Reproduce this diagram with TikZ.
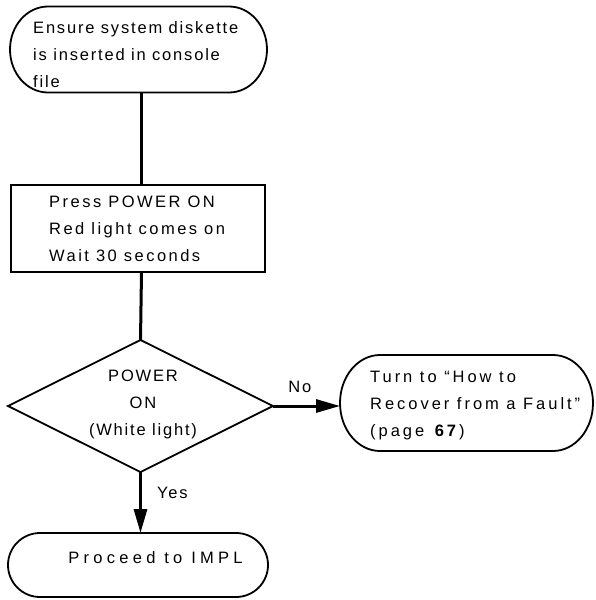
\documentclass[tikz,border=0pt]{standalone}
\usepackage{fontspec}
\setmainfont{Liberation Sans}[LetterSpace=11]
\usetikzlibrary{shapes.geometric,arrows.meta}
\tikzset{
  outline/.style={draw=black,line width=1.8pt},
  area/.style={inner sep=0pt,outer sep=0pt},
  txt/.style={inner sep=0pt,font=\fontsize{16.5}{27}\selectfont,align=left},
  spaced/.style={font=\fontsize{16.5}{27}\selectfont\addfontfeature{LetterSpace=#1}},
  conn/.style={draw=black,line width=3pt},
  arr/.style={conn,-{Triangle[length=24pt,width=13pt]}},
}
\newcommand\stadium[3]{\draw[outline] ([xshift=#2]#1.north west) -- ([xshift=-#2]#1.north east)
  arc[start angle=90,end angle=-90,x radius=#2,y radius=#3] -- ([xshift=#2]#1.south west)
  arc[start angle=270,end angle=90,x radius=#2,y radius=#3] -- cycle;}
\begin{document}
\begin{tikzpicture}[x=1pt,y=-1pt]
\useasboundingbox (0,0) rectangle (595,600);
\coordinate (spine) at (141.5,0);
% start terminal
\node[area,minimum width=257pt,minimum height=86pt] (start) at (138.5,49.5) {};
\stadium{start}{38pt}{43pt}
\node[txt,anchor=west] (starttext) at (33,55) {Ensure system diskette\\is inserted in console\\file};
% process box
\node[area,outline,minimum width=254pt,minimum height=87pt] (power) at (138,228.5) {};
\node[txt,spaced=15,anchor=west] (powertext) at (49,228.5) {Press POWER ON\\Red light comes on\\Wait 30 seconds};
% decision
\node[area,outline,shape=diamond,minimum width=265pt,minimum height=132pt] (dec) at (140.5,406) {};
\node[txt,align=center] (dectext) at (143,404) {POWER\\ON\\(White light)};
% fault terminal
\node[area,minimum width=253pt,minimum height=96pt] (fault) at (466.5,403) {};
\stadium{fault}{40pt}{48pt}
\node[txt,spaced=18,anchor=west] (faulttext) at (370,406) {Turn to ``How to\\Recover from a Fault''\\(page \textbf{67})};
% end terminal
\node[area,minimum width=260pt,minimum height=64pt] (impl) at (138,565) {};
\stadium{impl}{32pt}{32pt}
\node[txt,spaced=26] (impltext) at (155.5,558) {Proceed to IMPL};
% connectors
\draw[conn] (start.south -| spine) -- (power.north -| spine);
\draw[conn] (power.south -| spine) -- (dec.north);
\draw[arr] (dec.east) -- (dec.east -| fault.west) node[txt,pos=0.4,above=12pt] (no) {No};
\draw[arr] (dec.south) -- (impl.north -| dec.south) node[txt,pos=0.35,right=15pt] (yes) {Yes};
\end{tikzpicture}
\end{document}
